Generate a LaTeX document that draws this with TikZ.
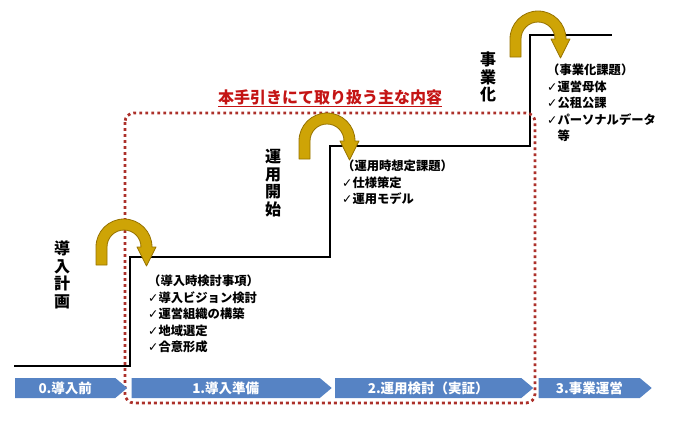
\documentclass[tikz,border=0pt]{standalone}
\usepackage{fontspec}
\setmainfont{Noto Sans CJK JP}
\newfontfamily\symfont{DejaVu Sans}
\usetikzlibrary{positioning, shapes.symbols}
\definecolor{phaseblue}{RGB}{86,131,196}
\definecolor{scopered}{RGB}{172,48,42}
\definecolor{titlered}{RGB}{196,20,20}
\definecolor{jumpgold}{RGB}{206,164,6}
\definecolor{jumpedge}{RGB}{150,114,0}
\newcommand{\chk}{{\symfont\mdseries ✓}}
% gold arrow jumping over a step, #1 = centre of the arc
\newcommand{\jumparrow}[1]{%
  \begin{scope}[shift={(#1)}]
    \filldraw[jump] (-28,18) -- (-28,0) arc[start angle=180, end angle=360, radius=28]
      -- (32,0) -- (22.5,19) -- (13,0) -- (17,0)
      arc[start angle=0, end angle=-180, radius=17] -- (-17,18) -- cycle;
  \end{scope}}

\begin{document}
\begin{tikzpicture}[
      x=1pt, y=-1pt,
      node distance=4pt,
      phase/.style={signal, signal to=east, signal pointer angle=80,
                  fill=phaseblue, text=white, minimum height=20pt, inner sep=1pt,
                  font=\bfseries\fontsize{13.5}{14}\selectfont},
      steplabel/.style={align=center, inner sep=0pt,
                  font=\bfseries\fontsize{16}{17.5}\selectfont},
      note/.style={anchor=north west, align=left, inner sep=0pt,
                  font=\bfseries\fontsize{12.3}{16.5}\selectfont},
      jump/.style={fill=jumpgold, draw=jumpedge, line width=0.8pt, line join=round},
      stairs/.style={draw=black, line width=1.8pt},
      scopeline/.style={draw=scopered, line width=2.8pt, dash pattern=on 2.8pt off 3.2pt,
                  rounded corners=9pt}
    ]
    \useasboundingbox (0,0) rectangle (674,431);

    % staircase
    \draw[stairs] (14,366) -- (130,366) -- (130,257) -- (330,257) -- (330,146)
      -- (530,146) -- (530,35) -- (612,35);

    % scope of the guide
    \draw[scopeline] (125,113) rectangle (535,403);
    \node[text=titlered, inner sep=0pt, font=\bfseries\fontsize{16}{18}\selectfont]
      (scopetitle) at (330,98) {\underline{本手引きにて取り扱う主な内容}};

    % jumps
    \jumparrow{124,247}
    \jumparrow{327,141}
    \jumparrow{538,39}

    % milestones
    \node[steplabel] (plan) at (62,275) {導\\入\\計\\画};
    \node[steplabel] (start) at (273,183) {運\\用\\開\\始};
    \node[steplabel] (biz) at (488,77) {事\\業\\化};

    % issues per phase
    \node[note] (prepnote) at (148,275) {（導入時検討事項）\\\chk 導入ビジョン検討\\\chk 運営組織の構築\\\chk 地域選定\\\chk 合意形成};
    \node[note] (trialnote) at (342,160) {（運用時想定課題）\\\chk 仕様策定\\\chk 運用モデル};
    \node[note] (biznote) at (547,64) {（事業化課題）\\\chk 運営母体\\\chk 公租公課\\\chk パーソナルデータ\\\phantom{\chk}等};

    % phases
    \node[phase, minimum width=112pt, anchor=west] (pre) at (15,388) {0.導入前};
    \node[phase, minimum width=200pt, right=of pre] (prep) {1.導入準備};
    \node[phase, minimum width=198pt, right=3pt of prep] (trial) {2.運用検討（実証）};
    \node[phase, minimum width=113pt, right=5pt of trial] (ops) {3.事業運営};
  \end{tikzpicture}
\end{document}
